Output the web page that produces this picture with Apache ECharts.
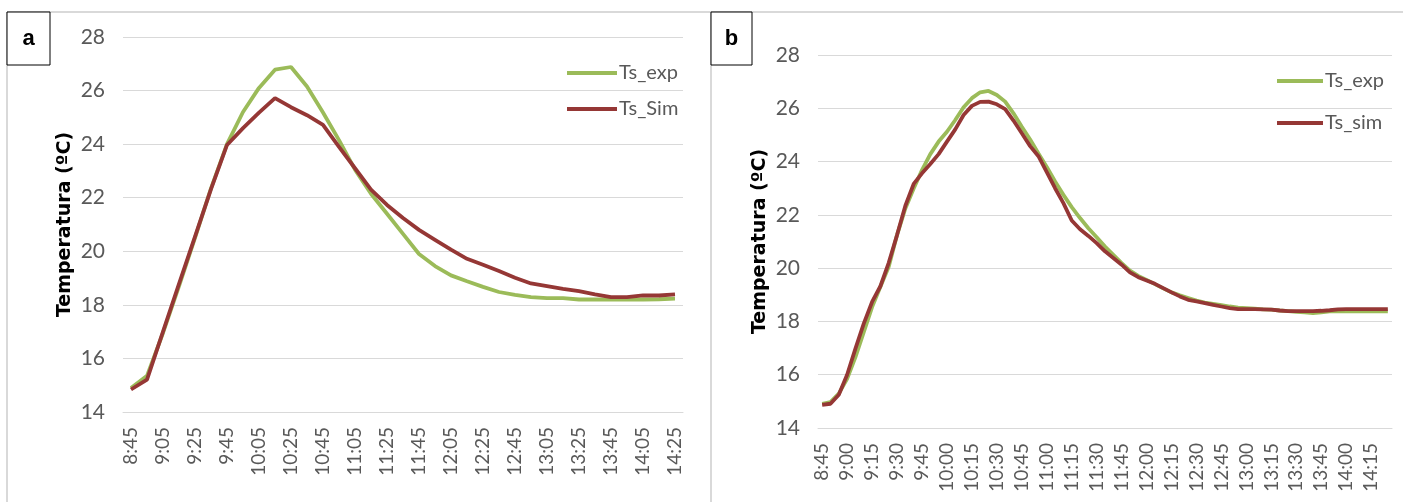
<!DOCTYPE html>
<html>
<head>
<meta charset="utf-8">
<script src="https://cdn.jsdelivr.net/npm/echarts@6/dist/echarts.min.js"></script>
<style>
html,body{margin:0;padding:0;background:#fff;}
#chart{width:1403px;height:502px;}
</style>
</head>
<body>
<div id="chart"></div>
<script>
// panel a: every 10 minutes
var timesA = ['8:45','8:55','9:05','9:15','9:25','9:35','9:45','9:55','10:05','10:15','10:25','10:35','10:45','10:55',
	'11:05','11:15','11:25','11:35','11:45','11:55','12:05','12:15','12:25','12:35','12:45','12:55','13:05','13:15',
	'13:25','13:35','13:45','13:55','14:05','14:15','14:25'];
var expA = [14.9, 15.35, 16.95, 18.7, 20.5, 22.35, 24.0, 25.2, 26.1, 26.78, 26.88, 26.15, 25.18, 24.15,
	23.05, 22.15, 21.4, 20.65, 19.9, 19.45, 19.1, 18.88, 18.67, 18.48, 18.37, 18.29, 18.25, 18.25,
	18.2, 18.2, 18.2, 18.2, 18.2, 18.21, 18.23];
var simA = [14.84, 15.21, 17.0, 18.78, 20.55, 22.32, 23.97, 24.6, 25.18, 25.72, 25.38, 25.08, 24.72, 23.9,
	23.1, 22.3, 21.73, 21.24, 20.8, 20.43, 20.06, 19.72, 19.5, 19.26, 19.01, 18.8, 18.7, 18.6,
	18.51, 18.39, 18.29, 18.29, 18.35, 18.35, 18.39];

// panel b: every 5 minutes
var timesB = ['8:45','8:50','8:55','9:00','9:05','9:10','9:15','9:20','9:25','9:30','9:35','9:40','9:45','9:50','9:55',
	'10:00','10:05','10:10','10:15','10:20','10:25','10:30','10:35','10:40','10:45','10:50','10:55',
	'11:00','11:05','11:10','11:15','11:20','11:25','11:30','11:35','11:40','11:45','11:50','11:55',
	'12:00','12:05','12:10','12:15','12:20','12:25','12:30','12:35','12:40','12:45','12:50','12:55',
	'13:00','13:05','13:10','13:15','13:20','13:25','13:30','13:35','13:40','13:45','13:50','13:55',
	'14:00','14:05','14:10','14:15','14:20','14:25'];
var expB = [14.91, 14.97, 15.29, 15.85, 16.66, 17.6, 18.54, 19.3, 20.05, 21.24, 22.24, 22.99, 23.68, 24.28, 24.75,
	25.12, 25.56, 26.04, 26.38, 26.6, 26.65, 26.5, 26.25, 25.81, 25.31, 24.83, 24.3,
	23.8, 23.25, 22.75, 22.29, 21.88, 21.5, 21.16, 20.81, 20.5, 20.19, 19.91, 19.71,
	19.56, 19.4, 19.24, 19.09, 18.98, 18.88, 18.78, 18.71, 18.66, 18.61, 18.56, 18.52,
	18.5, 18.48, 18.45, 18.44, 18.41, 18.39, 18.36, 18.34, 18.31, 18.34, 18.38, 18.39,
	18.38, 18.38, 18.38, 18.38, 18.38, 18.38];
var simB = [14.87, 14.91, 15.25, 16.0, 16.98, 17.92, 18.73, 19.32, 20.2, 21.24, 22.34, 23.16, 23.56, 23.91, 24.28,
	24.75, 25.21, 25.75, 26.09, 26.24, 26.25, 26.15, 25.97, 25.54, 25.06, 24.58, 24.2,
	23.6, 23.0, 22.44, 21.79, 21.46, 21.21, 20.94, 20.63, 20.38, 20.13, 19.84, 19.66,
	19.54, 19.41, 19.25, 19.09, 18.94, 18.81, 18.75, 18.69, 18.62, 18.56, 18.5, 18.46,
	18.46, 18.46, 18.45, 18.44, 18.41, 18.39, 18.39, 18.39, 18.39, 18.4, 18.42, 18.45,
	18.46, 18.46, 18.46, 18.46, 18.46, 18.46];

var cGreen = '#9BBB59';
var cRed = '#953735';
var tickFont = 'Lato, "Open Sans", sans-serif';

function xAx(idx, data, every){
	return {
		type: 'category', gridIndex: idx, data: data, boundaryGap: true,
		axisLine: {lineStyle: {color: '#d9d9d9'}},
		axisTick: {show: false},
		axisLabel: {interval: every, rotate: 90, margin: 15, color: '#595959', fontSize: 19, fontFamily: tickFont}
	};
}
function yAx(idx){
	return {
		type: 'value', gridIndex: idx, min: 14, max: 28, interval: 2,
		name: 'Temperatura (ºC)', nameLocation: 'middle', nameRotate: 90, nameGap: 48,
		nameTextStyle: {color: '#000', fontWeight: 'bold', fontSize: 19, fontFamily: 'DejaVu Sans'},
		axisLine: {show: false}, axisTick: {show: false},
		axisLabel: {margin: 18, color: '#595959', fontSize: 21, fontFamily: tickFont},
		splitLine: {lineStyle: {color: '#d9d9d9'}}
	};
}
function ln(name, x, data, color){
	return {
		name: name, type: 'line', xAxisIndex: x, yAxisIndex: x, data: data,
		showSymbol: false, symbol: 'none', lineStyle: {color: color, width: 3.8}, itemStyle: {color: color}
	};
}

var myChart = echarts.init(document.getElementById('chart'));
var option = {
	animation: false,
	grid: [
		{left: 123, top: 37, width: 560, height: 375},
		{left: 818, top: 55, width: 574, height: 373}
	],
	xAxis: [xAx(0, timesA, 1), xAx(1, timesB, 2)],
	yAxis: [yAx(0), yAx(1)],
	legend: [
		{data: ['Ts_exp', 'Ts_Sim'], orient: 'vertical', left: 562, top: 58, itemWidth: 50, itemHeight: 4, itemGap: 16,
			icon: 'rect', textStyle: {color: '#595959', fontSize: 20, fontFamily: tickFont, padding: [0, 0, 0, -3]}},
		{data: ['Ts_exp', 'Ts_sim'], orient: 'vertical', left: 1272, top: 66, itemWidth: 46, itemHeight: 4, itemGap: 22,
			icon: 'rect', textStyle: {color: '#595959', fontSize: 20, fontFamily: tickFont, padding: [0, 0, 0, -3]}}
	],
	graphic: [
		{type: 'line', shape: {x1: 7, y1: 12, x2: 1403, y2: 12}, style: {stroke: '#d9d9d9', lineWidth: 2}},
		{type: 'line', shape: {x1: 7, y1: 12, x2: 7, y2: 502}, style: {stroke: '#d9d9d9', lineWidth: 2}},
		{type: 'line', shape: {x1: 711, y1: 12, x2: 711, y2: 502}, style: {stroke: '#d9d9d9', lineWidth: 2}},
		{type: 'rect', shape: {x: 7, y: 12, width: 43, height: 53}, style: {fill: '#fff', stroke: '#000', lineWidth: 1}},
		{type: 'text', x: 28.5, y: 38.5, style: {text: 'a', fontSize: 22, fontWeight: 'bold', fontFamily: 'Liberation Sans', fill: '#000', align: 'center', verticalAlign: 'middle'}},
		{type: 'rect', shape: {x: 711, y: 12, width: 41, height: 53}, style: {fill: '#fff', stroke: '#000', lineWidth: 1}},
		{type: 'text', x: 731.5, y: 38.5, style: {text: 'b', fontSize: 22, fontWeight: 'bold', fontFamily: 'Liberation Sans', fill: '#000', align: 'center', verticalAlign: 'middle'}}
	],
	series: [
		ln('Ts_exp', 0, expA, cGreen),
		ln('Ts_Sim', 0, simA, cRed),
		ln('Ts_exp', 1, expB, cGreen),
		ln('Ts_sim', 1, simB, cRed)
	]
};
myChart.setOption(option);
</script>
</body>
</html>
